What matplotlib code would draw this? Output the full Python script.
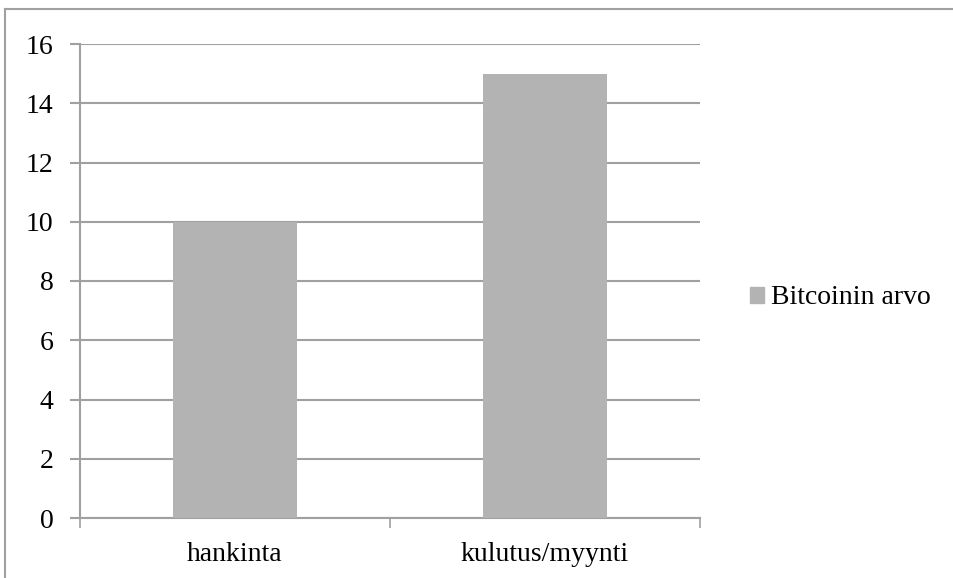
import matplotlib
matplotlib.use("Agg")
import matplotlib.pyplot as plt
from matplotlib.lines import Line2D
from matplotlib.patches import Patch

# data
categories = ["hankinta", "kulutus/myynti"]
values = [10, 15]
series_name = "Bitcoinin arvo"
yticks = [0, 2, 4, 6, 8, 10, 12, 14, 16]

plt.rcParams['font.family'] = ['Liberation Serif', 'DejaVu Serif']
fs = 20

fig = plt.figure(figsize=(9.54, 5.78), dpi=100)
ax = fig.add_axes([80 / 954, 1 - 518 / 578, 620 / 954, 474 / 578])

grid_col = "#a0a0a0"
x = range(len(categories))
ax.bar(x, values, width=0.4, color="#b3b3b3", zorder=3)

ax.set_xlim(-0.5, len(categories) - 0.5)
ax.set_ylim(0, 16)
ax.set_yticks(yticks)
ax.set_yticklabels([str(v) for v in yticks], fontsize=fs)
ax.yaxis.grid(True, color=grid_col, linewidth=1.5, zorder=1)
ax.set_axisbelow(True)

# category labels centered, ticks at category boundaries
ax.set_xticks(list(x))
ax.set_xticklabels(categories, fontsize=fs)
ax.tick_params(axis="x", length=0, pad=17)
ax.set_xticks([-0.5, 0.5, 1.5], minor=True)
ax.tick_params(axis="x", which="minor", length=7, color=grid_col, width=1.2)
ax.tick_params(axis="y", length=7, color=grid_col, width=1.5, pad=12)

for s in ["top", "right"]:
    ax.spines[s].set_visible(False)
for s in ["left", "bottom"]:
    ax.spines[s].set_color(grid_col)
    ax.spines[s].set_linewidth(1.5)

# legend
fig.legend(handles=[Patch(color="#b3b3b3", label=series_name)],
           loc="center left", bbox_to_anchor=(731 / 954, 1 - 298 / 578),
           frameon=False, fontsize=fs, handlelength=0.5, handleheight=0.5,
           handletextpad=0.25, borderpad=0.2)

# chart border (top and left visible)
fig.add_artist(Line2D([5 / 954, 5 / 954], [0, 1 - 9 / 578],
                      transform=fig.transFigure, color="#a0a0a0", lw=1.5))
fig.add_artist(Line2D([5 / 954, 1], [1 - 9 / 578, 1 - 9 / 578],
                      transform=fig.transFigure, color="#a0a0a0", lw=1.5))

fig.savefig("out.png", dpi=100)
